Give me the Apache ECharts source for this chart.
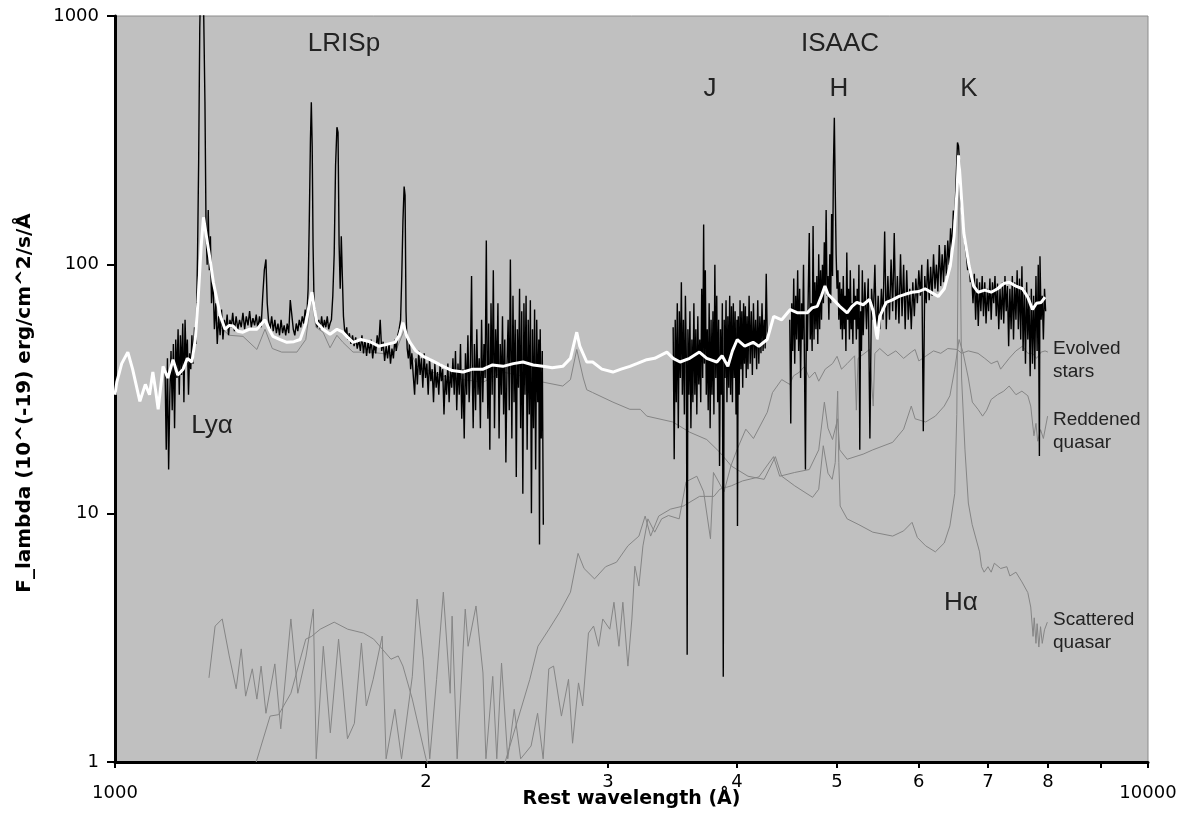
<!DOCTYPE html>
<html>
<head>
<meta charset="utf-8">
<script src="https://cdn.jsdelivr.net/npm/echarts@6/dist/echarts.min.js"></script>
<style>
  html, body { margin: 0; padding: 0; background: #fff; }
  #main { width: 1189px; height: 814px; }
</style>
</head>
<body>
<div id="main"></div>
<script>
// rest wavelength (A) / flux pairs

// tick positions on the two log axes
var xTickValues = [1000, 2000, 3000, 4000, 5000, 6000, 7000, 8000, 9000, 10000];
var xLabelValues = [1000, 2000, 3000, 4000, 5000, 6000, 7000, 8000, 10000];
var yTickValues = [1, 10, 100, 1000];

// observed spectrum, LRISp part
var blackLris = [
  [1118,38],[1121,18],[1124,42],[1127,15],[1130,30],[1133,45],[1136,26],[1139,48],[1142,22],[1145,50],
  [1148,35],[1151,55],[1154,30],[1157,52],[1160,36],[1163,58],[1166,28],[1169,60],[1172,40],[1175,50],
  [1178,30],[1181,44],[1184,38],[1187,52],[1190,40],[1194,56],[1198,48],[1202,110],[1205,260],[1208,900],
  [1211,1500],[1214,1500],[1217,1500],[1220,1500],[1222,450],[1225,140],[1228,100],[1231,166],[1234,95],[1237,130],
  [1240,70],[1244,90],[1248,55],[1252,70],[1256,48],[1260,62],[1264,52],[1268,66],[1272,50],[1276,60],
  [1280,55],[1284,63],[1288,52],[1292,60],[1296,56],[1300,64],[1305,54],[1310,62],[1315,55],[1320,60],
  [1325,56],[1330,64],[1335,55],[1340,62],[1345,57],[1350,65],[1355,56],[1360,61],[1365,57],[1370,63],
  [1375,55],[1380,62],[1385,56],[1390,75],[1395,95],[1400,105],[1404,70],[1408,60],[1413,55],[1418,62],
  [1423,54],[1428,60],[1433,53],[1438,58],[1443,52],[1448,60],[1453,53],[1458,57],[1463,52],[1468,58],
  [1473,53],[1478,72],[1483,71],[1488,55],[1493,52],[1498,58],[1503,54],[1508,60],[1513,56],[1518,62],
  [1523,58],[1528,66],[1533,60],[1538,80],[1542,150],[1546,320],[1549,450],[1552,300],[1555,120],[1558,75],
  [1562,62],[1566,58],[1570,56],[1575,60],[1580,55],[1585,62],[1590,55],[1595,60],[1600,56],[1605,62],
  [1610,55],[1615,58],[1620,60],[1625,75],[1630,110],[1635,250],[1640,357],[1644,340],[1648,120],[1652,80],
  [1656,130],[1660,89],[1664,62],[1668,55],[1672,52],[1676,56],[1680,50],[1686,53],[1692,48],[1698,52],
  [1704,47],[1710,51],[1716,46],[1722,50],[1728,45],[1734,52],[1740,44],[1746,50],[1752,43],[1758,49],
  [1764,44],[1770,50],[1776,42],[1782,48],[1788,44],[1794,52],[1800,47],[1806,60],[1812,45],[1818,49],
  [1824,41],[1830,47],[1836,42],[1842,48],[1848,40],[1854,46],[1860,42],[1866,50],[1872,45],[1878,52],
  [1884,55],[1890,60],[1895,90],[1900,150],[1905,206],[1909,190],[1913,65],[1918,46],[1923,42],[1928,48],
  [1933,38],[1938,44],[1944,36],[1950,30],[1956,42],[1962,33],[1968,45],[1974,36],[1980,42],[1986,32],
  [1992,44],[1998,35],[2004,40],[2010,30],[2016,42],[2022,34],[2028,38],[2034,28],[2040,40],[2046,32],
  [2052,37],[2058,30],[2064,40],[2070,34],[2076,38],[2082,25],[2088,36],[2094,30],[2100,40],[2106,28],
  [2112,38],[2118,32],[2124,42],[2130,30],[2136,45],[2142,26],[2148,40],[2154,30],[2160,48],[2166,24],
  [2172,38],[2178,20],[2184,44],[2190,30],[2196,52],[2202,28],[2208,40],[2214,90],[2218,35],[2222,22],
  [2228,48],[2234,26],[2240,55],[2246,30],[2252,42],[2258,22],[2264,60],[2270,28],[2276,48],[2282,35],
  [2288,125],[2292,40],[2296,24],[2300,58],[2306,18],[2312,70],[2318,30],[2324,95],[2330,22],[2336,55],
  [2342,35],[2348,70],[2354,20],[2360,48],[2366,30],[2372,62],[2378,25],[2384,50],[2390,16],[2396,40],
  [2402,60],[2408,26],[2414,105],[2418,45],[2422,20],[2428,75],[2434,28],[2440,60],[2446,14],[2452,55],
  [2458,32],[2464,80],[2470,22],[2476,65],[2482,12],[2488,70],[2494,30],[2500,75],[2506,18],[2512,60],
  [2518,25],[2524,72],[2530,10],[2536,55],[2542,22],[2548,66],[2554,15],[2560,60],[2566,28],[2572,50],
  [2576,7.5],[2580,55],[2586,20],[2592,45],[2598,9]
];

// observed spectrum, ISAAC J band
var blackIsaacJ = [
  [3470,56],[3478,16.5],[3486,60],[3494,28],[3502,70],[3510,22],[3518,65],[3526,35],[3534,85],[3542,30],
  [3550,60],[3558,25],[3566,75],[3574,40],[3580,2.7],[3586,55],[3594,30],[3602,65],[3610,22],[3618,50],
  [3626,28],[3634,70],[3642,30],[3650,55],[3658,25],[3666,62],[3674,33],[3682,50],[3690,28],[3698,80],
  [3706,35],[3714,145],[3720,40],[3728,95],[3736,30],[3744,55],[3752,26],[3760,70],[3768,22],[3776,60],
  [3784,30],[3792,65],[3800,25],[3808,100],[3816,35],[3824,75],[3832,28],[3840,60],[3848,15.5],[3856,55],
  [3864,30],[3872,70],[3880,2.2],[3888,60],[3896,35],[3904,72],[3912,28],[3920,62],[3928,32],[3936,75],
  [3944,30],[3952,68],[3960,28],[3968,70],[3976,35],[3984,65],[3992,25],[4000,60],[4005,8.9],[4012,62],
  [4020,30],[4028,72],[4036,38],[4044,65],[4052,32],[4060,70],[4068,40],[4076,68],[4084,35],[4092,62],
  [4100,38],[4110,75],[4120,40],[4130,65],[4140,36],[4150,70],[4160,42],[4170,60],[4180,38],[4190,72],
  [4200,40],[4210,62],[4220,44],[4230,70],[4240,45],[4250,60],[4260,46],[4270,92],[4280,50]
];

// observed spectrum, ISAAC H and K bands
var blackIsaacHK = [
  [4500,60],[4510,23],[4520,70],[4530,45],[4540,88],[4550,40],[4560,75],[4570,50],[4580,95],[4590,45],
  [4600,80],[4610,35],[4620,70],[4630,50],[4640,100],[4650,40],[4660,15],[4670,65],[4680,45],[4690,80],
  [4700,134],[4710,50],[4720,70],[4730,45],[4740,143],[4750,50],[4760,85],[4770,55],[4780,90],[4790,48],
  [4800,110],[4810,55],[4820,95],[4830,60],[4840,100],[4850,70],[4860,123],[4870,80],[4880,166],[4890,75],
  [4900,90],[4910,60],[4920,110],[4930,70],[4940,160],[4950,90],[4960,250],[4970,390],[4980,200],[4990,110],
  [5000,80],[5010,95],[5020,60],[5030,85],[5040,55],[5050,80],[5060,50],[5070,90],[5080,55],[5090,75],
  [5100,45],[5110,112],[5120,60],[5130,80],[5140,50],[5150,95],[5160,55],[5170,70],[5180,48],[5190,88],
  [5200,60],[5210,75],[5220,50],[5230,80],[5240,55],[5250,100],[5260,18],[5270,65],[5280,45],[5290,95],
  [5300,52],[5320,85],[5340,55],[5360,88],[5380,20],[5400,80],[5420,60],[5440,100],[5460,50],[5480,75],
  [5500,55],[5520,80],[5540,60],[5560,136],[5580,55],[5600,90],[5620,60],[5640,105],[5660,65],[5680,134],
  [5700,60],[5720,90],[5740,58],[5760,110],[5780,62],[5800,100],[5820,55],[5840,95],[5860,60],[5880,80],
  [5900,55],[5920,85],[5940,62],[5960,88],[5980,70],[6000,95],[6020,75],[6040,100],[6060,21.4],[6080,90],
  [6100,70],[6120,105],[6140,72],[6160,98],[6180,75],[6200,110],[6220,80],[6240,100],[6260,78],[6280,120],
  [6300,82],[6320,110],[6340,85],[6360,120],[6380,90],[6400,125],[6420,100],[6440,140],[6460,115],[6480,165],
  [6500,150],[6520,220],[6540,310],[6555,300],[6570,260],[6590,180],[6610,160],[6630,140],[6650,120],[6670,110],
  [6690,95],[6710,100],[6730,85],[6750,90],[6770,70],[6790,92],[6810,60],[6830,88],[6850,56.7],[6870,85],
  [6890,65],[6910,90],[6930,62],[6950,85],[6970,58],[6990,80],[7010,65],[7030,88],[7050,60],[7070,85],
  [7090,70],[7110,90],[7130,62],[7150,84],[7170,55],[7190,80],[7210,60],[7230,85],[7250,58],[7270,90],
  [7290,65],[7310,82],[7330,47],[7350,80],[7370,55],[7390,90],[7410,50],[7430,85],[7450,60],[7470,95],
  [7490,55],[7510,88],[7530,50],[7550,98.6],[7570,45],[7590,80],[7610,40],[7630,85],[7650,50],[7670,75],
  [7690,35.6],[7710,80],[7730,40],[7750,75],[7770,38],[7790,90],[7810,45],[7830,100],[7850,17],[7860,108],
  [7880,60],[7900,75],[7920,50],[7940,80],[7960,65]
];

// smoothed spectrum (white)
var whiteModel = [
  [1000,30],[1004,33.7],[1015,40],[1029,44.5],[1040,38],[1057,28.2],[1070,33],[1080,30],[1088,37],[1095,31],
  [1101,26.2],[1113,39],[1125,35],[1138,41.5],[1150,36],[1164,38],[1175,42],[1187,40.6],[1196,50],[1203,70.5],
  [1212,120],[1218,155],[1226,130],[1236,105],[1245,85],[1255,72.5],[1265,62],[1278,55],[1290,57],[1301,56.7],
  [1315,54],[1330,53.5],[1350,55],[1372,55],[1397,60],[1410,55],[1422,51.5],[1445,50],[1467,48.7],[1490,49],
  [1511,50],[1530,58],[1545,72],[1551,77.5],[1560,66],[1568,58.5],[1590,55],[1615,52.5],[1640,55],[1662,53.5],
  [1680,51],[1700,48.7],[1730,50],[1765,49],[1800,47],[1832,47.8],[1866,48.7],[1885,52],[1900,58.5],[1915,52],
  [1930,48.7],[1955,45],[1988,42.8],[2030,41],[2078,39],[2120,37.5],[2173,37],[2220,38],[2272,38],[2320,39.5],
  [2374,39],[2430,40],[2483,40.6],[2540,39.5],[2596,39],[2650,38.5],[2713,39],[2760,42],[2799,53.5],[2818,47],
  [2862,40.6],[2900,40.6],[2960,38],[3034,37],[3090,38],[3151,39],[3200,40],[3272,41.5],[3330,42],[3422,44.5],
  [3470,42],[3524,40.6],[3600,42],[3679,44.5],[3740,42],[3825,40.6],[3870,43],[3920,39],[3960,45],[4003,50],
  [4070,47],[4147,48.7],[4200,47],[4279,50],[4342,62],[4420,60],[4505,66],[4580,64],[4678,64],[4730,67],
  [4785,68],[4830,75],[4867,82],[4900,76],[4957,72.5],[5030,68],[5114,64],[5170,68],[5225,70.5],[5300,69],
  [5375,72.5],[5420,65],[5468,50],[5500,62],[5580,70.5],[5650,72],[5741,74.5],[5820,76],[5910,77.5],[6000,78],
  [6084,80],[6180,77],[6265,74.5],[6350,80],[6435,98.6],[6490,130],[6534,200],[6555,275],[6580,220],[6633,134],
  [6712,98.6],[6780,82],[6846,77.5],[6950,79],[7050,77.5],[7150,80],[7250,84],[7338,85],[7450,82],[7560,80],
  [7650,74],[7730,66],[7800,70],[7880,70.5],[7950,74]
];

// model component: evolved stars
var evolvedStars = [
  [1233,2.18],[1250,3.52],[1270,3.76],[1290,2.67],[1310,1.97],[1325,2.85],[1338,1.84],[1358,2.37],[1372,1.79],[1385,2.43],
  [1400,1.57],[1428,2.48],[1447,1.36],[1480,3.76],[1503,1.89],[1531,2.67],[1556,4.12],[1566,1.03],[1591,2.92],[1616,1.31],
  [1646,3.12],[1679,1.24],[1705,1.43],[1732,3.01],[1751,1.68],[1778,2.15],[1814,3.21],[1830,1.03],[1866,1.63],[1894,1.03],
  [1940,2.21],[1961,4.52],[1988,2.59],[2017,1.03],[2048,2.15],[2079,4.82],[2111,1.89],[2120,3.86],[2144,1.03],[2183,4.12],
  [2197,2.92],[2236,4.24],[2271,2.28],[2286,1.03],[2321,2.21],[2342,1.03],[2367,2.5],[2400,1.03],[2435,1.63],[2470,1.03],
  [2528,1.16],[2565,1.57],[2597,1.03],[2630,2.37],[2658,2.43],[2705,1.53],[2748,2.15],[2773,1.19],[2810,2.08],[2836,1.68],
  [2873,3.3],[2906,3.52],[2939,2.92],[2966,3.76],[3013,3.42],[3041,4.39],[3075,2.92],[3102,4.39],[3137,2.43],[3165,3.76],
  [3186,6.13],[3215,5.1],[3244,7.4],[3280,9.5],[3330,8.4],[3382,9.5],[3434,9.8],[3517,9.5],[3571,13.4],[3658,14.1],
  [3714,12.2],[3771,7.9],[3796,14.6],[3887,12.2],[3946,15.5],[4000,18],[4080,21.8],[4150,20],[4280,25.5],[4330,30.6],
  [4420,34.5],[4500,33],[4537,35.7],[4600,37],[4650,39],[4700,35],[4760,37],[4800,34],[4870,38],[4950,40],
  [5000,42.8],[5050,38],[5114,40],[5200,43],[5220,26],[5240,42],[5375,45.6],[5420,27],[5440,44],[5500,46],
  [5600,43],[5700,45],[5800,42],[5900,44.5],[5950,45.6],[6000,41],[6100,43],[6200,45],[6300,44],[6400,46],
  [6535,45.6],[6600,44],[6700,45],[6846,44],[6950,42],[7050,40],[7150,41],[7200,38],[7338,42],[7450,45],
  [7560,47],[7650,44],[7730,44],[7800,42],[7880,44.5],[7950,45],[8000,44.5]
];

// model component: reddened quasar
var reddenedQuasar = [
  [1370,1],[1413,1.53],[1440,1.55],[1480,1.89],[1530,3.12],[1550,3.2],[1580,3.42],[1630,3.65],[1680,3.42],[1740,3.3],
  [1780,3.12],[1850,2.59],[1880,2.67],[1900,2.43],[1940,1.79],[2000,1.03],[2100,0.6],[2300,0.6],[2386,1],[2521,2.15],
  [2567,2.92],[2631,3.42],[2694,4.0],[2760,4.82],[2807,6.9],[2845,6.0],[2912,5.45],[2985,6.1],[3058,6.36],[3137,7.4],
  [3215,8.1],[3260,9.75],[3300,8.1],[3360,9.75],[3450,10.4],[3550,10.7],[3680,11.7],[3800,11.7],[3850,12.5],[3950,12.9],
  [4050,13.5],[4200,14],[4340,16.9],[4400,14.1],[4550,14.6],[4700,15],[4800,18],[4861,28],[4900,22],[4950,19.8],
  [5007,24],[5030,18],[5114,16.5],[5300,17.3],[5415,18],[5660,19.3],[5800,21.8],[5900,27],[5950,24],[6092,23.3],
  [6225,24.6],[6350,27],[6430,29.7],[6500,38],[6563,50],[6620,44.5],[6700,35],[6760,28],[6846,26.2],[6916,24.6],
  [6980,26],[7050,28.7],[7150,30],[7250,31],[7338,32.5],[7450,30],[7550,31],[7650,29.7],[7700,27],[7755,20.5],
  [7790,23],[7820,19.5],[7870,21.7],[7920,20],[7995,24.6]
];

// model component: scattered quasar
var scatteredQuasar = [
  [1250,60],[1265,56],[1290,52],[1330,51.5],[1372,45.6],[1397,55],[1420,46],[1450,44.5],[1500,44.5],[1530,50],
  [1549,74],[1565,56],[1590,53.5],[1615,46.3],[1640,52],[1662,48.7],[1700,44.5],[1765,44.5],[1832,43.7],[1870,45],
  [1907,55],[1935,44],[1960,39],[2078,35.6],[2173,34.5],[2272,33.7],[2374,37],[2483,35.6],[2596,33.7],[2713,32.5],
  [2760,34.5],[2799,45.6],[2840,35],[2862,31.4],[2900,30.6],[3034,28],[3151,26.2],[3225,26.2],[3272,24.6],[3467,23.3],
  [3600,21.2],[3740,19.8],[3850,17.6],[3950,15.5],[4100,14.1],[4250,13.7],[4358,16.9],[4420,14.1],[4550,12.9],[4735,11.6],
  [4800,12.5],[4849,18.7],[4900,14.5],[4946,13.7],[4980,16],[5007,31],[5020,16],[5035,10.7],[5114,9.5],[5250,9],
  [5415,8.4],[5660,8.1],[5800,8.5],[5910,9.2],[5980,8],[6092,7.4],[6225,7.0],[6350,7.6],[6430,8.9],[6500,12],
  [6530,25],[6550,120],[6563,230],[6580,120],[6600,35],[6650,18],[6700,11],[6758,9],[6870,7],[6900,6.1],
  [6940,5.8],[7000,6.1],[7050,5.8],[7100,6.3],[7200,6],[7300,6.1],[7350,5.6],[7450,5.8],[7550,5.3],[7650,4.8],
  [7700,4.2],[7740,3.2],[7760,3.8],[7790,3.0],[7810,3.6],[7840,2.9],[7870,3.5],[7900,3.0],[7940,3.4],[7990,3.65]
];

var myChart = echarts.init(document.getElementById('main'));

function grayLine(name, data) {
  return {
    name: name, type: 'line', data: data, symbol: 'none',
    lineStyle: { color: '#858585', width: 1 }, silent: true
  };
}
function blackLine(name, data) {
  return {
    name: name, type: 'line', data: data, symbol: 'none',
    lineStyle: { color: '#000', width: 1.4 }, silent: true
  };
}

function bigLabel(text, x, y) {
  return {
    type: 'text', x: x, y: y,
    style: { text: text, align: 'center', verticalAlign: 'middle',
      fontFamily: 'Liberation Sans', fontSize: 26, fill: '#222' }
  };
}
function sideLabel(text, y) {
  return {
    type: 'text', x: 1053, y: y,
    style: { text: text, align: 'left', verticalAlign: 'middle',
      fontFamily: 'Liberation Sans', fontSize: 19, lineHeight: 23, fill: '#222' }
  };
}

var option = {
  backgroundColor: '#fff',
  animation: false,
  grid: {
    left: 115, right: 41, top: 16, bottom: 51,
    show: true, backgroundColor: '#c0c0c0', borderColor: '#8c8c8c', borderWidth: 1
  },
  xAxis: {
    type: 'log', logBase: 10, min: 1000, max: 10000,
    name: 'Rest wavelength (Å)', nameLocation: 'middle', nameGap: 28, nameMoveOverlap: false,
    nameTextStyle: { fontFamily: 'DejaVu Sans', fontWeight: 'bold', fontSize: 19, color: '#000' },
    axisLine: { lineStyle: { color: '#000', width: 3 } },
    axisTick: { customValues: xTickValues, length: 6, lineStyle: { color: '#000', width: 2 } },
    axisLabel: {
      customValues: xLabelValues, margin: 11,
      fontFamily: 'DejaVu Sans', fontSize: 18, color: '#000',
      formatter: function (v) {
        if (v === 1000 || v === 10000) return '{e|' + v + '}';
        return String(Math.round(v / 1000));
      },
      rich: { e: { fontFamily: 'DejaVu Sans', fontSize: 18, color: '#000', padding: [11, 0, 0, 0] } }
    },
    splitLine: { show: false },
    minorTick: { show: false }
  },
  yAxis: {
    type: 'log', logBase: 10, min: 1, max: 1000,
    axisLine: { show: true, lineStyle: { color: '#000', width: 3 } },
    axisTick: { show: true, customValues: yTickValues, length: 8, lineStyle: { color: '#000', width: 2 } },
    axisLabel: {
      customValues: yTickValues, margin: 16,
      fontFamily: 'DejaVu Sans', fontSize: 18, color: '#000',
      formatter: function (v) { return String(v); }
    },
    splitLine: { show: false }
  },
  series: [
    grayLine('Evolved stars', evolvedStars),
    grayLine('Reddened quasar', reddenedQuasar),
    grayLine('Scattered quasar', scatteredQuasar),
    blackLine('LRISp', blackLris),
    blackLine('ISAAC J', blackIsaacJ),
    blackLine('ISAAC H K', blackIsaacHK),
    {
      name: 'Smoothed', type: 'line', data: whiteModel, symbol: 'none',
      lineStyle: { color: '#fff', width: 3 }, silent: true
    }
  ],
  graphic: [
    bigLabel('LRISp', 344, 44),
    bigLabel('ISAAC', 840, 44),
    bigLabel('J', 710, 89),
    bigLabel('H', 839, 89),
    bigLabel('K', 969, 89),
    bigLabel('Lyα', 212, 426),
    bigLabel('Hα', 961, 603),
    sideLabel('Evolved\nstars', 360),
    sideLabel('Reddened\nquasar', 431),
    sideLabel('Scattered\nquasar', 631),
    {
      type: 'text', x: 25, y: 403, rotation: Math.PI / 2,
      style: { text: 'F_lambda (10^(-19) erg/cm^2/s/Å', align: 'center', verticalAlign: 'middle',
        fontFamily: 'DejaVu Sans', fontWeight: 'bold', fontSize: 20, fill: '#000' }
    }
  ]
};

myChart.setOption(option);
</script>
</body>
</html>
